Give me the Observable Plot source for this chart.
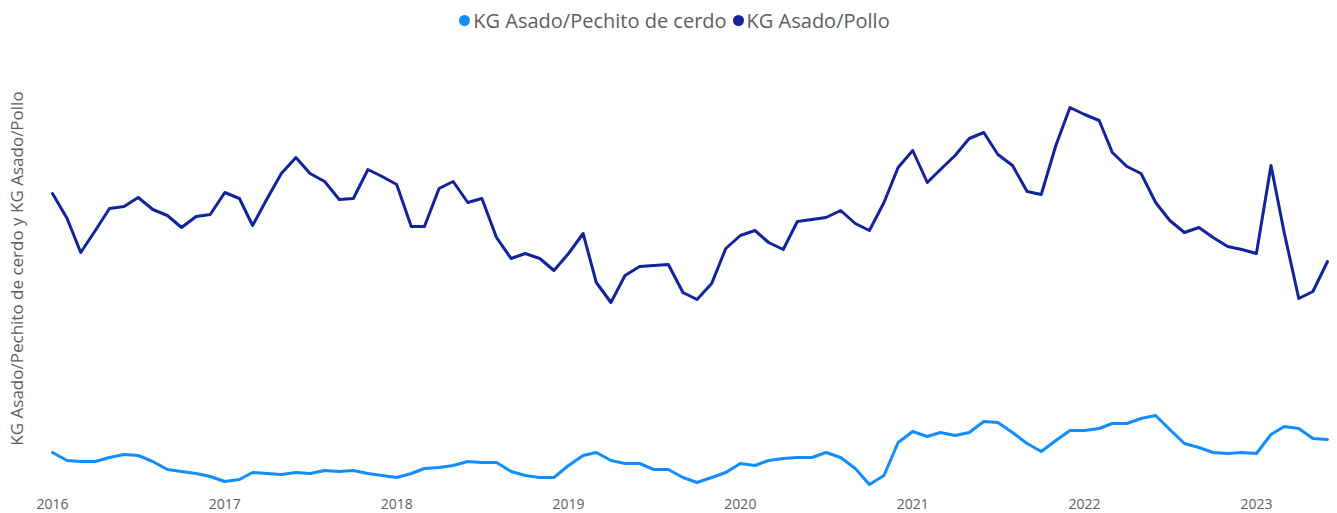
<!DOCTYPE html>
<html>
<head>
<meta charset="utf-8">
<script src="https://cdn.jsdelivr.net/npm/d3@7"></script>
<script src="https://cdn.jsdelivr.net/npm/@observablehq/plot@0.6"></script>
<style>
  html, body { margin: 0; padding: 0; background: #fff; }
  body { width: 1337px; height: 513px; overflow: hidden; font-family: "Open Sans", "Noto Sans", sans-serif; }
  #legend { height: 40px; display: flex; justify-content: center; align-items: center; gap: 6px; font-size: 20px; color: #605E5C; padding-left: 12px; box-sizing: border-box; }
  .item { display: flex; align-items: center; gap: 3px; }
  .dot { width: 11px; height: 11px; border-radius: 50%; display: inline-block; }
  #chart svg { display: block; }
</style>
</head>
<body>
<div id="legend"></div>
<div id="chart"></div>
<script>
const seriesNames = ["KG Asado/Pechito de cerdo", "KG Asado/Pollo"];
const seriesColors = ["#118DFF", "#12239E"];
const startMonth = "2016-01-01";
const endMonth = "2023-06-01";
const yearTicks = ["2016", "2017", "2018", "2019", "2020", "2021", "2022", "2023"];
const yLabel = "KG Asado/Pechito de cerdo y KG Asado/Pollo";

const pechito = [1.08,1.00,0.99,0.99,1.03,1.06,1.05,0.99,0.91,0.89,0.87,0.84,0.79,0.81,0.88,0.87,0.86,0.88,0.87,0.90,0.89,0.90,0.87,0.85,0.83,0.87,0.92,0.93,0.95,0.99,0.98,0.98,0.89,0.85,0.83,0.83,0.95,1.05,1.08,1.00,0.97,0.97,0.91,0.91,0.83,0.78,0.83,0.88,0.97,0.95,1.00,1.02,1.03,1.03,1.08,1.03,0.92,0.76,0.85,1.18,1.29,1.24,1.28,1.25,1.28,1.39,1.38,1.28,1.17,1.09,1.20,1.30,1.30,1.32,1.37,1.37,1.42,1.45,1.31,1.17,1.13,1.08,1.07,1.08,1.07,1.26,1.34,1.32,1.22,1.21];
const pollo = [3.67,3.42,3.08,3.30,3.52,3.54,3.63,3.51,3.45,3.33,3.44,3.46,3.68,3.62,3.35,3.62,3.87,4.03,3.87,3.79,3.61,3.62,3.91,3.84,3.76,3.34,3.34,3.72,3.79,3.58,3.62,3.23,3.02,3.07,3.02,2.90,3.07,3.27,2.78,2.58,2.85,2.94,2.95,2.96,2.68,2.61,2.77,3.12,3.25,3.30,3.18,3.11,3.39,3.41,3.43,3.50,3.37,3.30,3.58,3.93,4.10,3.78,3.91,4.05,4.22,4.28,4.06,3.95,3.69,3.66,4.15,4.53,4.46,4.40,4.08,3.94,3.87,3.58,3.40,3.28,3.33,3.23,3.14,3.11,3.07,3.95,3.28,2.62,2.69,2.99];

const months = d3.utcMonth.range(new Date(startMonth), d3.utcMonth.offset(new Date(endMonth), 1));
const rows = [];
months.forEach((m, i) => {
  rows.push({date: m, value: pechito[i], serie: seriesNames[0]});
  rows.push({date: m, value: pollo[i], serie: seriesNames[1]});
});

// legend
const legend = document.getElementById("legend");
seriesNames.forEach((n, i) => {
  const it = document.createElement("span");
  it.className = "item";
  it.innerHTML = `<span class="dot" style="background:${seriesColors[i]}"></span><span>${n}</span>`;
  legend.appendChild(it);
});

const chart = Plot.plot({
  width: 1337,
  height: 473,
  marginLeft: 52,
  marginRight: 10,
  marginTop: 50,
  marginBottom: 23,
  style: {fontFamily: "'Open Sans', 'Noto Sans', sans-serif", fontSize: "13.5px", color: "#605E5C", background: "#fff"},
  x: {type: "utc", domain: [new Date(startMonth), new Date(endMonth)]},
  y: {domain: [0.7, 4.7], axis: null},
  color: {domain: seriesNames, range: seriesColors},
  marks: [
    Plot.axisX(yearTicks.map(y => new Date(y + "-01-01")), {tickFormat: d3.utcFormat("%Y"), tickSize: 0, tickPadding: 9, label: null, fill: "#605E5C", fontSize: 14}),
    Plot.lineY(rows, {x: "date", y: "value", z: "serie", stroke: "serie", strokeWidth: 3, strokeLinejoin: "round", strokeLinecap: "round"}),
    Plot.text([yLabel], {frameAnchor: "left", textAnchor: "middle", dx: -35, dy: -22, rotate: -90, fill: "#605E5C", fontSize: 17, text: d => d})
  ]
});
document.getElementById("chart").appendChild(chart);
</script>
</body>
</html>
